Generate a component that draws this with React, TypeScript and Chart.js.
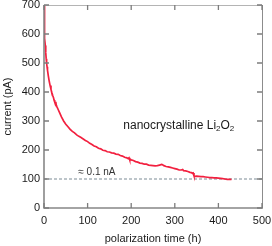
import React, { useEffect, useRef } from "react";
import { Chart, registerables } from "chart.js";

Chart.register(...registerables);

const timeH = [
  0, 0.5, 1, 1.5, 2, 3, 4, 5, 6, 7, 8, 10, 12, 14, 16, 18, 20, 22, 23, 24, 25, 26, 27, 28, 30, 33, 36, 40, 45,
  50, 55, 60, 65, 70, 75, 80, 85, 90, 95, 100, 105, 110, 115, 120, 125, 130, 135, 140, 145, 150, 155, 160,
  165, 170, 175, 180, 185, 190, 193, 195, 196, 197, 200, 205, 210, 215, 220, 225, 230, 235, 240, 245, 250,
  255, 260, 265, 270, 272, 275, 280, 285, 290, 295, 300, 305, 310, 315, 318, 320, 325, 330, 335, 338, 340,
  342, 344, 346, 350, 355, 360, 365, 370, 375, 380, 385, 390, 395, 400, 405, 410, 415, 420, 425, 430,
];
const currentPA = [
  700, 665, 630, 602, 585, 560, 535, 515, 500, 487, 475, 455, 437, 422, 409, 398, 388, 379, 372, 365, 368,
  362, 366, 356, 348, 338, 328, 314, 300, 289, 280, 271, 264, 259, 252, 247, 243, 238, 233, 229, 223, 219,
  214, 211, 206, 204, 199, 198, 194, 193, 190, 189, 186, 185, 181, 179, 175, 173, 170, 173, 166, 169, 166,
  164, 160, 158, 155, 154, 151, 151, 148, 147, 146, 145, 146, 148, 150, 149, 146, 143, 142, 140, 138, 136,
  134, 131, 131, 133, 129, 128, 126, 123, 122, 120, 121, 111, 109, 110, 109, 108, 108, 107, 106, 105, 105,
  104, 104, 103, 102, 101, 100, 99, 99, 99,
];
const refLineX = [0, 500];
const refLineY = [100, 100];
const xTicks = [0, 100, 200, 300, 400, 500];
const yTicks = [0, 100, 200, 300, 400, 500, 600, 700];
const sampleLabel = "nanocrystalline Li";
const refLabel = "\u2248 0.1 nA";

const FONT = "'Liberation Sans', Arial, Helvetica, sans-serif";

const framePlugin = {
  id: "frameTicks",
  afterDatasetsDraw(chart: any) {
    const { ctx, chartArea } = chart;
    const xs = chart.scales.x;
    const ys = chart.scales.y;
    const { left, right, top, bottom } = chartArea;
    ctx.save();
    ctx.lineCap = "butt";
    ctx.strokeStyle = "#b4b4b4";
    ctx.lineWidth = 1;
    ctx.beginPath();
    ctx.moveTo(left, top + 0.5);
    ctx.lineTo(right, top + 0.5);
    ctx.stroke();
    ctx.strokeStyle = "#8c8c8c";
    ctx.beginPath();
    ctx.moveTo(right + 0.5, top);
    ctx.lineTo(right + 0.5, bottom);
    ctx.stroke();
    ctx.strokeStyle = "#878787";
    ctx.lineWidth = 1.6;
    ctx.beginPath();
    ctx.moveTo(left, top);
    ctx.lineTo(left, bottom);
    ctx.lineTo(right + 1, bottom);
    ctx.stroke();
    const tl = 5;
    ctx.strokeStyle = "#7c7c7c";
    ctx.lineWidth = 1.3;
    ctx.beginPath();
    xTicks.forEach((v) => {
      const px = xs.getPixelForValue(v);
      ctx.moveTo(px, bottom);
      ctx.lineTo(px, bottom - tl);
      ctx.moveTo(px, top);
      ctx.lineTo(px, top + tl);
    });
    yTicks.forEach((v) => {
      const py = ys.getPixelForValue(v);
      ctx.moveTo(left, py);
      ctx.lineTo(left + tl, py);
      ctx.moveTo(right, py);
      ctx.lineTo(right - tl, py);
    });
    ctx.stroke();
    ctx.fillStyle = "#1a1a1a";
    ctx.textBaseline = "middle";
    ctx.textAlign = "left";
    let ax = xs.getPixelForValue(182);
    const ay = ys.getPixelForValue(285);
    ctx.font = `12px ${FONT}`;
    ctx.fillText(sampleLabel, ax, ay);
    ax += ctx.measureText(sampleLabel).width;
    ctx.font = `8px ${FONT}`;
    ctx.fillText("2", ax, ay + 3);
    ax += ctx.measureText("2").width;
    ctx.font = `12px ${FONT}`;
    ctx.fillText("O", ax, ay);
    ax += ctx.measureText("O").width;
    ctx.font = `8px ${FONT}`;
    ctx.fillText("2", ax, ay + 3);

    ctx.fillStyle = "#333";
    ctx.font = `10px ${FONT}`;
    ctx.fillText(refLabel, xs.getPixelForValue(78.7), ys.getPixelForValue(122));
    ctx.restore();
  },
};

export default function App() {
  const ref = useRef<HTMLCanvasElement | null>(null);
  useEffect(() => {
    document.body.style.margin = "0";
    const canvas = ref.current!;
    const chart = new Chart(canvas, {
      type: "line",
      data: {
        datasets: [
          {
            data: timeH.map((t, i) => ({ x: t, y: currentPA[i] })),
            borderColor: "#f2203f",
            borderWidth: 1.7,
            pointRadius: 0,
            tension: 0,
          },
          {
            data: refLineX.map((t, i) => ({ x: t, y: refLineY[i] })),
            borderColor: "#a8b2b9",
            borderWidth: 1.3,
            borderDash: [3, 2],
            pointRadius: 0,
          },
        ],
      },
      options: {
        animation: false,
        responsive: false,
        maintainAspectRatio: false,
        layout: { padding: { top: 5, right: 10, left: 0, bottom: 0 } },
        plugins: { legend: { display: false }, tooltip: { enabled: false } },
        scales: {
          x: {
            type: "linear",
            min: 0,
            max: 500,
            afterBuildTicks: (s: any) => {
              s.ticks = xTicks.map((v) => ({ value: v }));
            },
            afterFit: (s: any) => {
              s.height = 38;
              s.paddingLeft = 0;
              s.paddingRight = 0;
            },
            grid: { display: false, drawTicks: false },
            border: { display: false },
            ticks: { padding: 6, color: "#1a1a1a", font: { family: FONT, size: 11 }, maxRotation: 0 },
            title: {
              display: true,
              text: "polarization time (h)",
              color: "#1a1a1a",
              font: { family: FONT, size: 11 },
              padding: { top: 0, bottom: 0 },
            },
          },
          y: {
            type: "linear",
            min: 0,
            max: 700,
            afterBuildTicks: (s: any) => {
              s.ticks = yTicks.map((v) => ({ value: v }));
            },
            afterFit: (s: any) => {
              s.width = 44;
              s.paddingTop = 0;
              s.paddingBottom = 0;
            },
            grid: { display: false, drawTicks: false },
            border: { display: false },
            ticks: { padding: 4, color: "#1a1a1a", font: { family: FONT, size: 11 } },
            title: {
              display: true,
              text: "current (pA)",
              color: "#1a1a1a",
              font: { family: FONT, size: 11 },
              padding: { top: 1, bottom: 0 },
            },
          },
        },
      },
      plugins: [framePlugin],
    });
    return () => chart.destroy();
  }, []);
  return (
    <div style={{ position: "fixed", left: 0, top: 0, width: 272, height: 246 }}>
      <canvas ref={ref} width={272} height={246} />
    </div>
  );
}
